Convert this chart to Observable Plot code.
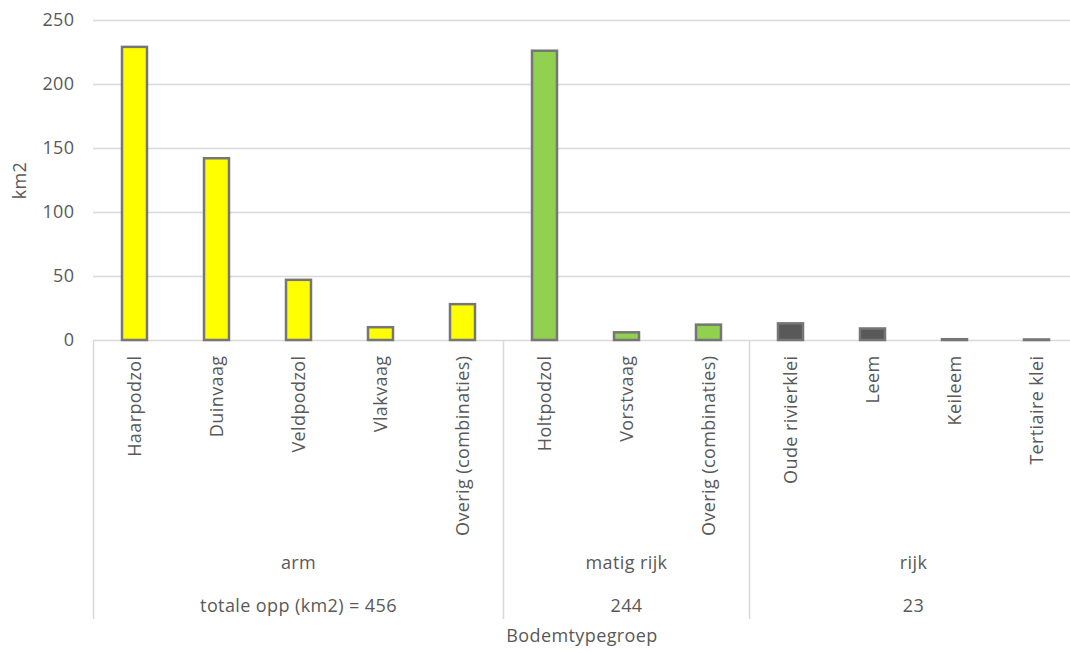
<!DOCTYPE html>
<html><head><meta charset="utf-8">
<script src="https://cdn.jsdelivr.net/npm/d3@7"></script>
<script src="https://cdn.jsdelivr.net/npm/@observablehq/plot@0.6"></script>
<style>body{margin:0;background:#fff} svg text{letter-spacing:0.4px}</style>
</head><body><div id="chart"></div>
<script>
const categories = ["Haarpodzol","Duinvaag","Veldpodzol","Vlakvaag","Overig (combinaties)","Holtpodzol","Vorstvaag","Overig (combinaties)","Oude rivierklei","Leem","Keileem","Tertiaire klei"];
const groups = ["arm","arm","arm","arm","arm","matig rijk","matig rijk","matig rijk","rijk","rijk","rijk","rijk"];
const values = [229,142,47,10,28,226,6,12,13,9,0.6,0.4];
const groupNames = ["arm","matig rijk","rijk"];
const groupTotals = ["totale opp (km2) = 456","244","23"];
const yTicks = [0,50,100,150,200,250];

const groupColors = ["#FFFF00","#92D050","#595959"];
const FONT = "'Open Sans', sans-serif";
const TXT = "#595959";

const keys = categories.map((c,i) => groups[i] + "|" + c);
const data = keys.map((k,i) => ({key: k, group: groups[i], value: values[i]}));

function groupAxis(index, scales, vals, dims) {
  const x = scales.x;
  const step = x.step(), bw = x.bandwidth();
  const gap = (step - bw) / 2;
  const y0 = dims.height - dims.marginBottom;
  const g = d3.create("svg:g")
    .attr("font-family", FONT).attr("font-size", 18).attr("fill", TXT);
  const bounds = [];
  groupNames.forEach((name, gi) => {
    const ks = keys.filter((k,i) => groups[i] === name);
    const left = x(ks[0]) - gap, right = x(ks[ks.length-1]) + bw + gap;
    bounds.push(left);
    if (gi === groupNames.length - 1) bounds.push(right);
    const cx = (left + right) / 2;
    g.append("text").attr("x", cx).attr("y", y0 + 223).attr("text-anchor","middle").attr("dy","0.35em").text(name);
    g.append("text").attr("x", cx).attr("y", y0 + 266).attr("text-anchor","middle").attr("dy","0.35em").text(groupTotals[gi]);
  });
  bounds.forEach(b => g.append("line").attr("x1", b).attr("x2", b).attr("y1", y0).attr("y2", y0 + 279)
    .attr("stroke", "#d9d9d9").attr("stroke-width", 1.5));
  return g.node();
}

const plot = Plot.plot({
  width: 1070, height: 653,
  marginTop: 20, marginBottom: 313, marginLeft: 93, marginRight: 0,
  style: {fontFamily: FONT, fontSize: "18px", color: TXT, background: "#fff", overflow: "visible"},
  x: {domain: keys, range: [93, 1078], paddingInner: 0.69, paddingOuter: 0.345},
  y: {domain: [0, 250]},
  color: {domain: groupNames, range: groupColors},
  marks: [
    Plot.ruleY(yTicks, {stroke: "#d9d9d9", strokeWidth: 1.5}),
    Plot.barY(data, {x: "key", y: "value", fill: "group", stroke: "#767676", strokeWidth: 2.5}),
    Plot.axisY(yTicks, {tickSize: 0, tickPadding: 19, label: "km2", labelAnchor: "center", labelArrow: "none", labelOffset: 80, fill: TXT}),
    Plot.axisX({tickSize: 0, tickRotate: -90, tickPadding: 15, tickFormat: d => d.split("|")[1], label: "Bodemtypegroep", labelAnchor: "center", labelArrow: "none", labelOffset: 301, fill: TXT}),
    groupAxis
  ]
});
document.getElementById("chart").append(plot);
</script>
</body></html>
